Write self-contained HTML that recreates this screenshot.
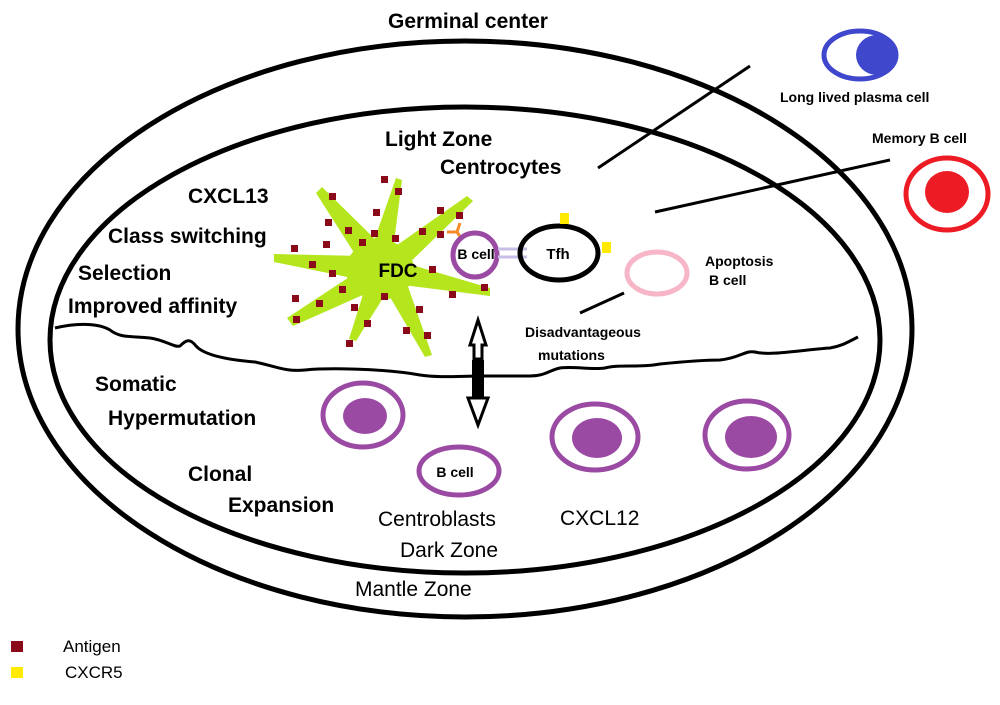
<!DOCTYPE html>
<html><head><style>
html,body{margin:0;padding:0;background:#fff}
svg{display:block}
text{font-family:"Liberation Sans",sans-serif;fill:#000}
.b{font-weight:bold}
</style></head><body>
<svg width="1000" height="705" viewBox="0 0 1000 705">
<ellipse cx="465" cy="329" rx="447" ry="288" fill="none" stroke="#000" stroke-width="5"/>
<ellipse cx="465" cy="340" rx="415" ry="233" fill="none" stroke="#000" stroke-width="5"/>
<path d="M55,328 C80,322 100,324 110,330 C120,338 130,336 150,338 C165,340 175,348 180,346 C186,340 190,338 196,346 C205,356 230,360 255,362 C275,366 285,372 305,370 C325,368 380,368 420,375 C440,378 460,376 480,376 L530,376 C545,376 550,370 560,368 C575,366 590,370 605,368 C620,364 640,368 660,364 C680,362 700,360 720,360 C740,358 745,350 755,352 C770,356 800,350 830,348 C842,346 848,342 858,337" fill="none" stroke="#000" stroke-width="3"/>
<!-- FDC -->
<g fill="#b5e61d">
<ellipse cx="380" cy="270" rx="34" ry="30"/>
<polygon points="368,258 392,258 402,180 396,178"/>
<polygon points="360,262 380,244 322,187 316,193"/>
<polygon points="362,256 362,280 274,262 274,254"/>
<polygon points="360,270 374,290 293,326 287,318"/>
<polygon points="366,285 388,290 356,341 349,339"/>
<polygon points="383,285 405,278 432,355 425,357"/>
<polygon points="395,260 395,284 490,296 490,288"/>
<polygon points="383,255 400,272 473,201 467,196"/>
</g>
<g fill="#8b0a1a">
<rect x="329" y="193" width="7" height="7"/><rect x="395" y="188" width="7" height="7"/><rect x="373" y="209" width="7" height="7"/>
<rect x="325" y="219" width="7" height="7"/><rect x="345" y="227" width="7" height="7"/><rect x="371" y="230" width="7" height="7"/>
<rect x="392" y="235" width="7" height="7"/><rect x="419" y="228" width="7" height="7"/><rect x="437" y="207" width="7" height="7"/>
<rect x="456" y="212" width="7" height="7"/><rect x="437" y="231" width="7" height="7"/><rect x="291" y="245" width="7" height="7"/>
<rect x="323" y="241" width="7" height="7"/><rect x="359" y="239" width="7" height="7"/><rect x="309" y="261" width="7" height="7"/>
<rect x="329" y="270" width="7" height="7"/><rect x="429" y="266" width="7" height="7"/><rect x="339" y="286" width="7" height="7"/>
<rect x="381" y="293" width="7" height="7"/><rect x="449" y="291" width="7" height="7"/><rect x="481" y="284" width="7" height="7"/>
<rect x="292" y="295" width="7" height="7"/><rect x="316" y="300" width="7" height="7"/><rect x="351" y="304" width="7" height="7"/>
<rect x="416" y="306" width="7" height="7"/><rect x="293" y="316" width="7" height="7"/><rect x="364" y="320" width="7" height="7"/>
<rect x="403" y="327" width="7" height="7"/><rect x="424" y="332" width="7" height="7"/><rect x="381" y="176" width="7" height="7"/>
<rect x="346" y="340" width="7" height="7"/>
</g>
<text x="398" y="277" class="b" font-size="19" text-anchor="middle">FDC</text>
<path d="M447,232 L457,232 L460,223 M457,232 L461,238" stroke="#f58a2a" stroke-width="3" fill="none"/>
<ellipse cx="475" cy="255" rx="22" ry="22" fill="none" stroke="#9b4aa3" stroke-width="5"/>
<text x="476" y="259" class="b" font-size="14" text-anchor="middle">B cell</text>
<g stroke="#c7bde6" stroke-width="3"><line x1="498" y1="249" x2="527" y2="249"/><line x1="498" y1="257" x2="527" y2="257"/></g>
<ellipse cx="559" cy="253" rx="39" ry="27" fill="none" stroke="#000" stroke-width="5"/>
<text x="558" y="259" class="b" font-size="15" text-anchor="middle">Tfh</text>
<rect x="560" y="213" width="9" height="11" fill="#ffea00"/>
<rect x="602" y="242" width="9" height="11" fill="#ffea00"/>
<ellipse cx="657" cy="273" rx="30" ry="21" fill="none" stroke="#f7b5c8" stroke-width="5"/>
<text x="705" y="266" class="b" font-size="14">Apoptosis</text>
<text x="709" y="285" class="b" font-size="14">B cell</text>
<line x1="580" y1="313" x2="624" y2="293" stroke="#000" stroke-width="3"/>
<text x="525" y="337" class="b" font-size="14">Disadvantageous</text>
<text x="538" y="360" class="b" font-size="14">mutations</text>
<!-- arrow -->
<polygon points="478,320 470,345 474,345 474,359 482,359 482,345 486,345" fill="#fff" stroke="#000" stroke-width="3"/>
<rect x="472" y="360" width="12" height="38" fill="#000"/>
<polygon points="468,398 488,398 478,425" fill="#fff" stroke="#000" stroke-width="3"/>
<!-- plasma -->
<ellipse cx="860" cy="55" rx="36" ry="24" fill="none" stroke="#3f48cc" stroke-width="5"/>
<ellipse cx="877" cy="55" rx="21" ry="20" fill="#3f48cc"/>
<text x="780" y="102" class="b" font-size="14">Long lived plasma cell</text>
<line x1="598" y1="168" x2="750" y2="66" stroke="#000" stroke-width="3"/>
<text x="872" y="143" class="b" font-size="14">Memory B cell</text>
<ellipse cx="947" cy="194" rx="41" ry="36" fill="none" stroke="#ed1c24" stroke-width="5"/>
<ellipse cx="947" cy="192" rx="22" ry="21" fill="#ed1c24"/>
<line x1="655" y1="212" x2="890" y2="160" stroke="#000" stroke-width="3"/>
<!-- dark zone cells -->
<g fill="none" stroke="#9b4aa3" stroke-width="5">
<ellipse cx="363" cy="415" rx="40" ry="32"/><ellipse cx="459" cy="471" rx="40" ry="24"/>
<ellipse cx="595" cy="437" rx="43" ry="33"/><ellipse cx="747" cy="435" rx="42" ry="34"/></g>
<g fill="#9b4aa3"><ellipse cx="365" cy="416" rx="22" ry="18"/><ellipse cx="597" cy="438" rx="25" ry="20"/><ellipse cx="751" cy="437" rx="26" ry="21"/></g>
<text x="455" y="477" class="b" font-size="14" text-anchor="middle">B cell</text>
<!-- labels -->
<text x="468" y="28" class="b" font-size="21" text-anchor="middle">Germinal center</text>
<text x="385" y="146" class="b" font-size="21">Light Zone</text>
<text x="440" y="174" class="b" font-size="21">Centrocytes</text>
<text x="188" y="203" class="b" font-size="21">CXCL13</text>
<text x="108" y="243" class="b" font-size="21">Class switching</text>
<text x="78" y="280" class="b" font-size="21">Selection</text>
<text x="68" y="313" class="b" font-size="21">Improved affinity</text>
<text x="95" y="391" class="b" font-size="21">Somatic</text>
<text x="108" y="425" class="b" font-size="21">Hypermutation</text>
<text x="188" y="481" class="b" font-size="21">Clonal</text>
<text x="228" y="512" class="b" font-size="21">Expansion</text>
<text x="378" y="526" font-size="21">Centroblasts</text>
<text x="400" y="557" font-size="21">Dark Zone</text>
<text x="560" y="525" font-size="21">CXCL12</text>
<text x="355" y="596" font-size="21">Mantle Zone</text>
<rect x="11" y="641" width="12" height="11" fill="#8b0a1a"/>
<rect x="11" y="667" width="12" height="11" fill="#ffea00"/>
<text x="63" y="652" font-size="17">Antigen</text>
<text x="65" y="678" font-size="17">CXCR5</text>
</svg>
</body></html>
